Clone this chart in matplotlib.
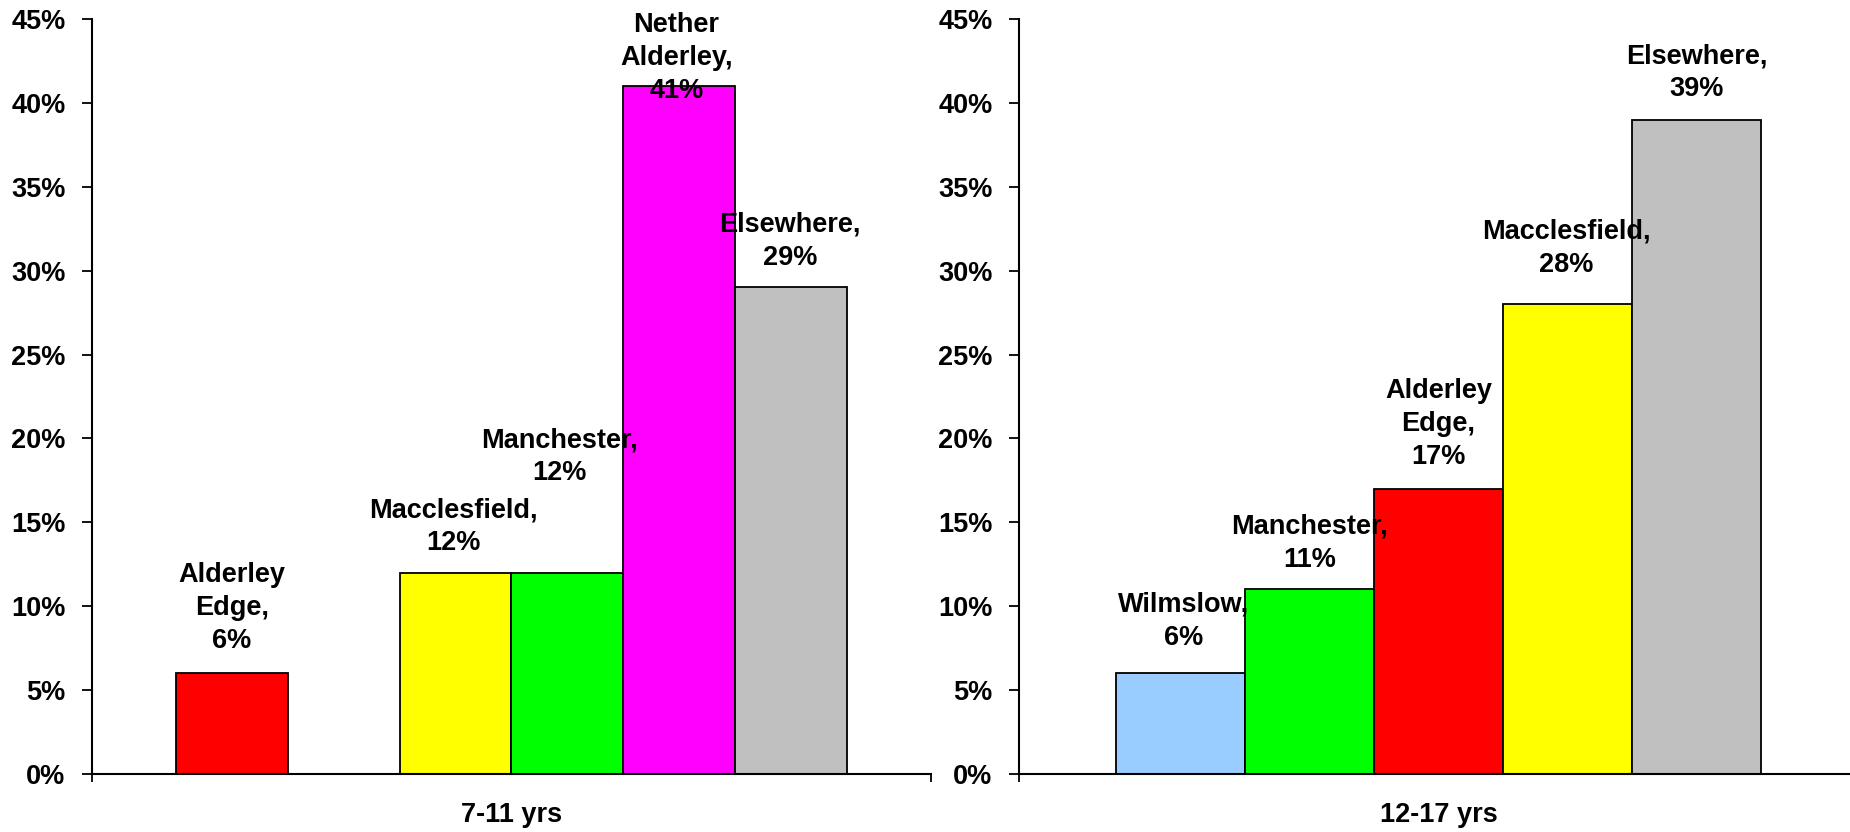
import matplotlib.pyplot as plt
from matplotlib.ticker import PercentFormatter

plt.rcParams['font.family'] = ['Liberation Sans', 'DejaVu Sans']
plt.rcParams['font.weight'] = 'bold'

# 7-11 yrs (second slot has no bar)
young_places = ['Alderley Edge', 'Wilmslow', 'Macclesfield', 'Manchester', 'Nether Alderley', 'Elsewhere']
young_values = [6, None, 12, 12, 41, 29]
young_labels = ['Alderley\nEdge,\n6%', None, 'Macclesfield,\n12%', 'Manchester,\n12%', 'Nether\nAlderley,\n41%', 'Elsewhere,\n29%']
young_colors = ['#FF0000', None, '#FFFF00', '#00FF00', '#FF00FF', '#C0C0C0']
# label offsets above the bar top in pixels (dx, dy)
young_offsets = [(0, 65), None, (-2, 46), (-8, 116), (-3, 28), (-1, 46)]

# 12-17 yrs
old_places = ['Wilmslow', 'Manchester', 'Alderley Edge', 'Macclesfield', 'Elsewhere']
old_values = [6, 11, 17, 28, 39]
old_labels = ['Wilmslow,\n6%', 'Manchester,\n11%', 'Alderley\nEdge,\n17%', 'Macclesfield,\n28%', 'Elsewhere,\n39%']
old_colors = ['#99CCFF', '#00FF00', '#FF0000', '#FFFF00', '#C0C0C0']
old_offsets = [(3, 52), (0, 46), (0, 65), (-1, 56), (0, 47)]

fig = plt.figure(figsize=(18.5, 8.32), dpi=100)
ax1 = fig.add_axes([92/1850, 1-774/832, 839/1850, 755/832])
ax2 = fig.add_axes([1019/1850, 1-774/832, 839/1850, 755/832])


def draw(ax, values, labels, colors, offsets, xlim, group):
    for i, v in enumerate(values):
        if v is None:
            continue
        ax.bar(i, v, width=1.0, color=colors[i], edgecolor='black', linewidth=1.3, zorder=2)
        dx, dy = offsets[i]
        ax.annotate(labels[i], (i, v), xytext=(dx, dy), textcoords='offset pixels',
                    ha='center', va='center', fontsize=19.5, fontweight='bold',
                    linespacing=1.35, zorder=3)
    ax.set_xlim(*xlim)
    ax.set_ylim(0, 45)
    ax.set_yticks(range(0, 46, 5))
    ax.yaxis.set_major_formatter(PercentFormatter(decimals=0))
    ax.set_xticks([(xlim[0] + xlim[1]) / 2])
    ax.set_xticklabels([group])
    ax.set_xticks(list(xlim), minor=True)
    ax.tick_params(axis='x', which='major', length=0, pad=20, labelsize=19.5)
    ax.tick_params(axis='x', which='minor', length=6, width=1.3, direction='out')
    ax.tick_params(axis='y', length=7, width=1.3, direction='out', pad=12, labelsize=19.5)
    for s in ['top', 'right']:
        ax.spines[s].set_visible(False)
    for s in ['left', 'bottom']:
        ax.spines[s].set_linewidth(1.5)
    ax.patch.set_alpha(0)


draw(ax1, young_values, young_labels, young_colors, young_offsets, (-1.25, 6.25), '7-11 yrs')
draw(ax2, old_values, old_labels, old_colors, old_offsets, (-1.25, 5.25), '12-17 yrs')

fig.savefig('out.png', dpi=100)
